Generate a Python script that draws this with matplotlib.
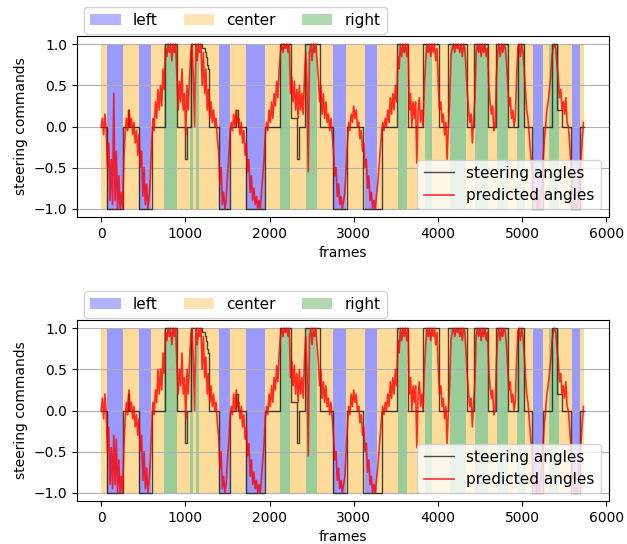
import matplotlib
matplotlib.use("Agg")
import matplotlib.pyplot as plt
from matplotlib.patches import Patch

# class of each stretch of frames (left / center / right)
span_starts = [0, 68, 258, 455, 594, 752, 900, 1057, 1090, 1132, 1168, 1394, 1525, 1719, 1941,
               2127, 2240, 2430, 2560, 2760, 2910, 3130, 3275, 3524, 3631, 3849, 3929, 4146,
               4336, 4443, 4601, 4701, 4830, 4939, 5030, 5128, 5247, 5326, 5433, 5592, 5690]
span_ends = span_starts[1:] + [5735]
span_labels = ["center", "left", "center", "left", "center", "right", "center", "right", "center",
               "right", "center", "left", "center", "left", "center", "right", "center", "right",
               "center", "left", "center", "left", "center", "right", "center", "right", "center",
               "right", "center", "right", "center", "right", "center", "right", "center", "left",
               "center", "right", "center", "left", "center"]
span_colors = {"left": "blue", "center": "orange", "right": "green"}

# steering angles (value holds from the given frame on)
steer_frames = [0, 68, 265, 315, 335, 455, 602, 760, 899, 1000, 1015, 1069, 1195, 1230, 1245,
                1260, 1275, 1285, 1394, 1525, 1605, 1620, 1719, 1949, 2127, 2253, 2324, 2330,
                2345, 2423, 2594, 2760, 2919, 3105, 3334, 3512, 3651, 3818, 4015, 4126, 4345,
                4431, 4590, 4689, 4839, 4946, 5029, 5124, 5243, 5354, 5421, 5473, 5580, 5690, 5740]
steer_values = [0, -1, 0, 0.2, 0, -1, 0, 1, 0, -0.4, 0, 1, 0.95, 0.9, 0.85,
                0.75, 0.7, 0, -1, 0, 0.2, 0, -1, 0, 1, 0.1, 0, -0.4,
                0, 1, 0, -1, 0, -1, 0, 1, 0, 1, 0, 1, 0,
                1, 0, 1, 0, 1, 0, -1, 0, 1, 0.2, 0, -1, 0, 0]

# predicted angles, one value every 15 frames (20 values per row = 300 frames)
pred_frames = list(range(0, 5745, 15))
pred_top = [
    0.0, 0.1, -0.1, 0.15, -0.05, -0.5, -0.2, -0.9, -0.4, -0.95, 0.4, -0.9, -0.3, -1.0, -0.6, -1.0, -0.8, -1.0, -0.4, -0.1,
    0.1, -0.05, 0.2, 0.0, 0.1, -0.1, 0.05, -0.2, -0.05, -0.35, -0.1, -0.5, -0.3, -0.85, -0.5, -0.95, -0.7, -1.0, -0.85, -0.6,
    -0.2, 0.1, -0.05, 0.3, 0.1, 0.45, 0.2, 0.5, 0.25, 0.7, 0.45, 0.95, 0.85, 1.0, 0.9, 1.0, 0.8, 1.0, 0.9, 1.0,
    0.6, 0.2, 0.55, 0.3, 0.7, 0.2, 0.4, -0.1, 0.5, 0.2, 0.6, 0.9, 1.0, 0.6, 0.0, 1.0, 0.8, 1.0, 0.9, 1.0,
    0.5, 0.9, 0.4, 0.7, 0.2, 0.45, 0.1, 0.3, 0.05, 0.2, 0.0, 0.1, -0.15, -0.3, -0.7, -0.5, -0.95, -0.8, -1.0, -0.9,
    -0.6, -0.4, -0.1, 0.05, -0.05, 0.15, 0.0, 0.2, 0.05, 0.1, -0.1, 0.05, -0.2, -0.05, -0.35, -0.2, -0.55, -0.4, -0.8, -0.6,
    -0.9, -0.75, -0.95, -0.85, -1.0, -0.9, -1.0, -0.8, -0.6, -0.4, -0.1, 0.05, -0.05, 0.2, 0.05, 0.3, 0.1, 0.4, 0.25, 0.55,
    0.35, 0.7, 0.9, 1.0, 0.9, 1.0, 0.95, 1.0, 0.9, 1.0, 0.4, 0.6, 0.3, 0.55, 0.2, 0.45, 0.1, 0.5, 0.2, 0.4,
    0.15, 0.6, 0.9, 0.5, -0.55, 0.9, 1.0, 0.8, 1.0, 0.9, 1.0, 0.8, 0.6, 0.3, 0.5, 0.15, 0.4, 0.1, 0.3, 0.05,
    0.15, -0.05, 0.1, -0.1, -0.3, -0.6, -0.5, -0.85, -0.7, -0.95, -0.85, -1.0, -0.9, -0.8, -0.5, -0.2, 0.05, -0.05, 0.15, 0.05,
    0.25, 0.1, 0.2, 0.0, 0.05, -0.15, -0.05, -0.3, -0.2, -0.5, -0.4, -0.75, -0.6, -0.9, -0.8, -1.0, -0.9, -1.0, -0.85, -0.7,
    -0.5, -0.3, -0.1, 0.05, -0.05, 0.1, 0.0, 0.2, 0.05, 0.35, 0.15, 0.4, 0.2, 0.5, 0.3, 0.85, 0.7, 1.0, 0.85, 1.0,
    0.9, 1.0, 0.85, 1.0, 0.2, 0.4, 0.0, 0.3, 0.1, 0.3, -0.45, 0.2, 0.35, 0.05, 0.2, 0.0, 0.5, 0.8, 1.0, 0.9,
    1.0, 0.85, 1.0, 0.9, 1.0, 0.8, 0.95, 0.5, 0.2, 0.3, 0.05, 0.15, -0.1, 0.05, -0.4, 0.0, 0.3, 0.85, 0.95, 1.0,
    0.9, 1.0, 0.95, 1.0, 0.9, 1.0, 0.85, 1.0, 0.95, 0.7, 0.4, 0.2, 0.05, 0.15, -0.2, 0.1, 0.35, 0.9, 1.0, 0.9,
    1.0, 0.85, 1.0, 0.9, 1.0, 0.85, 0.95, 0.5, 0.3, 0.15, 0.25, -0.05, 0.0, 0.6, 0.9, 1.0, 0.85, 1.0, 0.9, 1.0,
    0.95, 0.8, 0.5, 0.25, 0.35, 0.1, 0.2, 0.0, 0.1, 0.6, 0.95, 1.0, 0.85, 1.0, 0.9, 0.7, 0.45, 0.2, 0.1, -0.1,
    -0.3, -0.5, -0.7, -0.9, -0.8, -1.0, -0.9, -1.0, -0.85, -0.7, -0.4, -0.15, 0.0, 0.2, 0.3, 0.45, 0.6, 0.85, 0.95, 1.0,
    0.95, 0.75, 0.6, 0.35, 0.45, 0.2, 0.3, 0.15, 0.35, 0.05, 0.0, -0.2, -0.45, -0.7, -0.9, -1.0, -0.95, -1.0, -0.85, -0.6,
    -0.4, -0.15, 0.05]
pred_bottom = [
    0.0, 0.15, -0.1, 0.2, -0.05, -0.5, -0.2, -0.9, -0.45, -0.95, -0.3, -0.9, -0.35, -1.0, -0.6, -1.0, -0.8, -1.0, -0.45, -0.1,
    0.1, -0.05, 0.25, 0.0, 0.1, -0.1, 0.05, -0.2, -0.05, -0.3, -0.1, -0.5, -0.3, -0.85, -0.5, -0.95, -0.7, -1.0, -0.85, -0.6,
    -0.2, 0.1, -0.05, 0.25, 0.1, 0.5, 0.2, 0.5, 0.25, 0.7, 0.45, 0.95, 0.85, 1.0, 0.9, 1.0, 0.8, 1.0, 0.9, 1.0,
    0.55, 0.2, 0.5, 0.3, 0.7, 0.2, 0.4, -0.1, 0.5, 0.2, 0.6, 0.9, 1.0, 0.6, 0.0, 1.0, 0.8, 1.0, 0.9, 1.0,
    0.5, 0.9, 0.4, 0.65, 0.2, 0.45, 0.1, 0.3, 0.05, 0.2, 0.0, 0.1, -0.15, -0.3, -0.7, -0.5, -0.95, -0.8, -1.0, -0.9,
    -0.6, -0.4, -0.1, 0.05, -0.05, 0.2, 0.0, 0.25, 0.05, 0.1, -0.1, 0.05, -0.2, -0.05, -0.35, -0.2, -0.55, -0.4, -0.8, -0.6,
    -0.9, -0.75, -0.95, -0.85, -1.0, -0.9, -1.0, -0.8, -0.6, -0.4, -0.1, 0.05, -0.05, 0.2, 0.05, 0.3, 0.1, 0.4, 0.25, 0.55,
    0.35, 0.7, 0.9, 1.0, 0.9, 1.0, 0.95, 1.0, 0.9, 1.0, 0.4, 0.6, 0.3, 0.55, 0.2, 0.45, 0.1, 0.5, 0.2, 0.4,
    0.15, 0.6, 0.9, 0.5, -0.55, 0.9, 1.0, 0.8, 1.0, 0.9, 1.0, 0.8, 0.6, 0.3, 0.5, 0.15, 0.35, 0.1, 0.3, 0.05,
    0.15, -0.05, 0.1, -0.1, -0.3, -0.6, -0.5, -0.85, -0.7, -0.95, -0.85, -1.0, -0.9, -0.8, -0.5, -0.2, 0.05, -0.05, 0.2, 0.05,
    0.25, 0.1, 0.2, 0.0, 0.05, -0.15, -0.05, -0.3, -0.2, -0.5, -0.4, -0.75, -0.6, -0.9, -0.8, -1.0, -0.9, -1.0, -0.85, -0.7,
    -0.5, -0.3, -0.1, 0.05, -0.05, 0.1, 0.0, 0.2, 0.05, 0.35, 0.15, 0.4, 0.2, 0.5, 0.3, 0.85, 0.7, 1.0, 0.85, 1.0,
    0.9, 1.0, 0.85, 1.0, 0.2, 0.4, 0.0, 0.3, 0.1, 0.3, -0.45, 0.2, 0.35, 0.05, 0.2, 0.0, 0.5, 0.8, 1.0, 0.9,
    1.0, 0.85, 1.0, 0.9, 1.0, 0.8, 0.95, 0.5, 0.2, 0.3, 0.05, 0.15, -0.1, 0.05, -0.4, 0.0, 0.3, 0.85, 0.95, 1.0,
    0.9, 1.0, 0.95, 1.0, 0.9, 1.0, 0.85, 1.0, 0.95, 0.7, 0.4, 0.2, 0.05, 0.15, -0.2, 0.1, 0.35, 0.9, 1.0, 0.9,
    1.0, 0.85, 1.0, 0.9, 1.0, 0.85, 0.95, 0.5, 0.3, 0.15, 0.25, -0.05, 0.0, 0.6, 0.9, 1.0, 0.85, 1.0, 0.9, 1.0,
    0.95, 0.8, 0.5, 0.25, 0.35, 0.1, 0.2, 0.0, 0.1, 0.6, 0.95, 1.0, 0.85, 1.0, 0.9, 0.7, 0.45, 0.2, 0.1, -0.1,
    -0.3, -0.5, -0.7, -0.9, -0.8, -1.0, -0.9, -1.0, -0.85, -0.7, -0.4, -0.15, 0.0, 0.2, 0.3, 0.45, 0.6, 0.85, 0.95, 1.0,
    0.95, 0.75, 0.6, 0.35, 0.45, 0.2, 0.3, 0.15, 0.35, 0.05, 0.0, -0.2, -0.45, -0.7, -0.9, -1.0, -0.95, -1.0, -0.85, -0.6,
    -0.4, -0.15, 0.05]

fig = plt.figure(figsize=(6.27, 5.44), dpi=100)
ax_top = fig.add_axes([0.1228, 0.6011, 0.8477, 0.3327])
ax_bot = fig.add_axes([0.1228, 0.0790, 0.8477, 0.3327])

for ax, pred in [(ax_top, pred_top), (ax_bot, pred_bottom)]:
    for s, e, lab in zip(span_starts, span_ends, span_labels):
        ax.fill_between([s, e], -1, 1, color=span_colors[lab], alpha=0.4, lw=0)
    ax.plot(steer_frames, steer_values, color="k", alpha=0.7, lw=1,
            drawstyle="steps-post", label="steering angles")
    ax.plot(pred_frames, pred, color="r", alpha=0.8, lw=1.2, label="predicted angles")
    ax.grid(axis="y")
    ax.set_xlabel("frames")
    ax.set_ylabel("steering commands")

    span_handles = [Patch(facecolor=span_colors[k], alpha=0.3, label=k)
                    for k in ["left", "center", "right"]]
    leg = ax.legend(handles=span_handles, ncol=3, loc="lower left", fontsize=11,
                    columnspacing=1.7, bbox_to_anchor=(0.013, 1.01), borderaxespad=0)
    ax.add_artist(leg)
    ax.legend(loc="lower right", fontsize=11)

fig.savefig("out.png", dpi=100)
